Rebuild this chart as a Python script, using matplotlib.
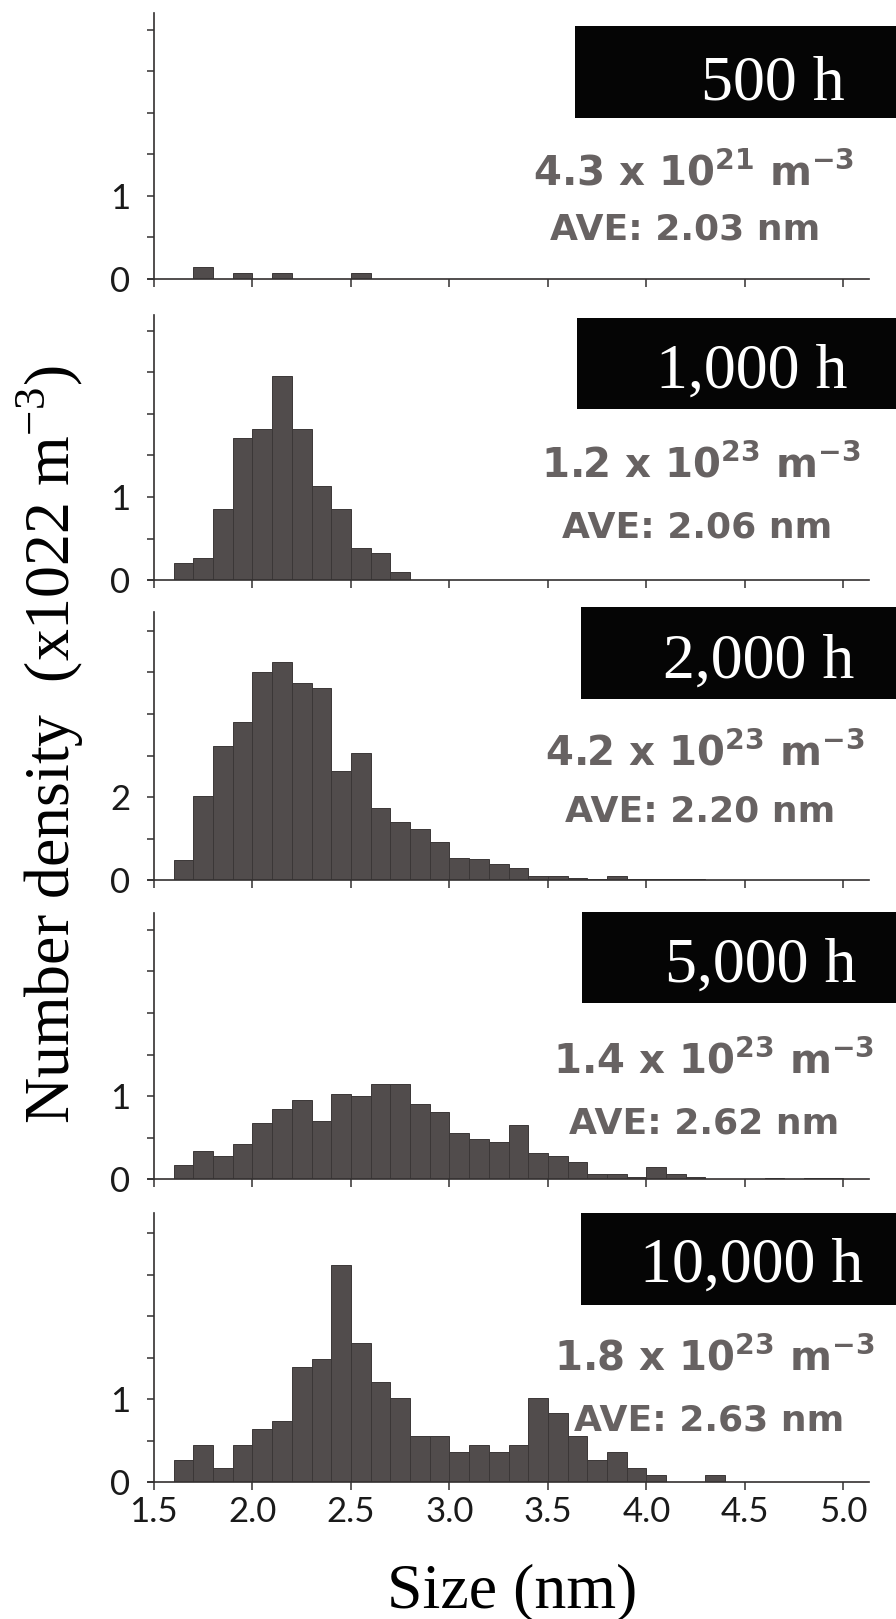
import matplotlib
matplotlib.use("Agg")
import matplotlib.pyplot as plt
from matplotlib import font_manager
from matplotlib.patches import Rectangle
from matplotlib.ticker import FixedLocator

# size bins (left edge, nm), 0.1 nm wide
sizes = [1.6, 1.7, 1.8, 1.9, 2.0, 2.1, 2.2, 2.3, 2.4, 2.5,
         2.6, 2.7, 2.8, 2.9, 3.0, 3.1, 3.2, 3.3, 3.4, 3.5,
         3.6, 3.7, 3.8, 3.9, 4.0, 4.1, 4.2, 4.3, 4.4, 4.5,
         4.6, 4.7, 4.8, 4.9]

# number density per bin (x10^22 m^-3)
h500 = [0, 0.14, 0, 0.07, 0, 0.07, 0, 0, 0, 0.07,
        0, 0, 0, 0, 0, 0, 0, 0, 0, 0,
        0, 0, 0, 0, 0, 0, 0, 0, 0, 0,
        0, 0, 0, 0]
h1000 = [0.21, 0.27, 0.85, 1.71, 1.82, 2.46, 1.82, 1.13, 0.85, 0.39,
         0.32, 0.10, 0, 0, 0, 0, 0, 0, 0, 0,
         0, 0, 0, 0, 0, 0, 0, 0, 0, 0,
         0, 0, 0, 0]
h2000 = [0.47, 2.03, 3.22, 3.80, 5.00, 5.25, 4.75, 4.63, 2.62, 3.06,
         1.73, 1.40, 1.24, 0.92, 0.54, 0.51, 0.39, 0.29, 0.10, 0.09,
         0.06, 0.02, 0.10, 0.02, 0.02, 0.02, 0.02, 0.01, 0, 0,
         0, 0, 0, 0]
h5000 = [0.17, 0.34, 0.28, 0.42, 0.67, 0.84, 0.95, 0.70, 1.03, 1.00,
         1.15, 1.15, 0.90, 0.81, 0.56, 0.48, 0.45, 0.65, 0.31, 0.28,
         0.20, 0.06, 0.06, 0.03, 0.14, 0.06, 0.03, 0, 0, 0,
         0.01, 0, 0.01, 0.01]
h10000 = [0.26, 0.45, 0.17, 0.45, 0.64, 0.74, 1.39, 1.48, 2.61, 1.67,
          1.20, 1.01, 0.55, 0.55, 0.36, 0.45, 0.36, 0.45, 1.01, 0.83,
          0.55, 0.26, 0.36, 0.17, 0.08, 0, 0, 0.08, 0, 0,
          0, 0, 0, 0]

titles = ["500 h", "1,000 h", "2,000 h", "5,000 h", "10,000 h"]
densities = [r"4.3 x 10$^{\mathbf{21}}$ m$^{\mathbf{-3}}$",
             r"1.2 x 10$^{\mathbf{23}}$ m$^{\mathbf{-3}}$",
             r"4.2 x 10$^{\mathbf{23}}$ m$^{\mathbf{-3}}$",
             r"1.4 x 10$^{\mathbf{23}}$ m$^{\mathbf{-3}}$",
             r"1.8 x 10$^{\mathbf{23}}$ m$^{\mathbf{-3}}$"]
averages = ["AVE: 2.03 nm", "AVE: 2.06 nm", "AVE: 2.20 nm",
            "AVE: 2.62 nm", "AVE: 2.63 nm"]
xticks = [1.5, 2.0, 2.5, 3.0, 3.5, 4.0, 4.5, 5.0]
xticklabels = ["1.5", "2.0", "2.5", "3.0", "3.5", "4.0", "4.5", "5.0"]

series = [h500, h1000, h2000, h5000, h10000]

# layout in pixels of the 896 x 1619 image
W, H = 896, 1619
panel_px = [(13, 279), (315, 580), (612, 880), (913, 1179), (1213, 1482)]
px_per_unit = [83, 83, 41.5, 83, 83]
ytick_step = [0.5, 0.5, 1, 0.5, 0.5]
ytick_shown = [1, 1, 2, 1, 1]
box_px = [(575, 26, 118), (577, 318, 409), (581, 607, 699), (582, 912, 1003), (581, 1213, 1305)]
title_xy = [(773, 100), (752, 388), (759, 678), (761, 982), (752, 1282)]
dens_xy = [(694, 185), (701, 477), (705, 765), (714, 1073), (714, 1370)]
ave_xy = [(685, 239), (697, 537), (700, 822), (704, 1133), (709, 1430)]

names = {f.name for f in font_manager.fontManager.ttflist}
if "Liberation Sans Narrow" in names:
    tick_font, tick_size = "Liberation Sans Narrow", 26
else:
    tick_font, tick_size = "Lato", 25

bar_color = "#514c4c"
text_gray = "#676262"
axis_color = "#333030"

plt.rcParams["axes.linewidth"] = 1.2
plt.rcParams["mathtext.fontset"] = "custom"
plt.rcParams["mathtext.rm"] = "Liberation Serif"
plt.rcParams["mathtext.bf"] = "DejaVu Sans:bold"


def fx(px):
    return px / W


def fy(py):
    return 1 - py / H


fig = plt.figure(figsize=(W / 100, H / 100), dpi=100)

for i, h in enumerate(series):
    top, base = panel_px[i]
    ax = fig.add_axes([fx(148), fy(base), 721 / W, (base - top) / H])
    ax.bar(sizes, h, width=0.1, align="edge", color=bar_color,
           edgecolor="#3b3737", linewidth=0.7)
    ax.set_xlim(1.47, 5.13)
    ymax = (base - top) / px_per_unit[i]
    ax.set_ylim(0, ymax)

    for s in ["top", "right"]:
        ax.spines[s].set_visible(False)
    for s in ["left", "bottom"]:
        ax.spines[s].set_color(axis_color)
    ax.spines["left"].set_position(("data", 1.5))

    step = ytick_step[i]
    yt = [k * step for k in range(int(ymax / step) + 1)]
    ax.yaxis.set_major_locator(FixedLocator(yt))
    ax.set_yticklabels([("%g" % v) if v in (0, ytick_shown[i]) else "" for v in yt])
    ax.set_xticks(xticks)
    if i == len(series) - 1:
        ax.set_xticklabels(xticklabels)
    else:
        ax.set_xticklabels([])
    ax.tick_params(axis="both", direction="out", color=axis_color, width=1.1)
    ax.tick_params(axis="y", length=5, pad=12, labelsize=tick_size, labelcolor="#1a1a1a")
    ax.tick_params(axis="x", length=6, pad=4, labelsize=tick_size, labelcolor="#1a1a1a")
    for lab in ax.get_xticklabels() + ax.get_yticklabels():
        lab.set_family(tick_font)

    # black time label box and annotation text
    x0, y0, y1 = box_px[i]
    fig.patches.append(Rectangle((fx(x0), fy(y1)), (W + 5 - x0) / W, (y1 - y0) / H,
                                 transform=fig.transFigure, facecolor="#050505",
                                 edgecolor="none", zorder=2))
    tx, ty = title_xy[i]
    fig.text(fx(tx), fy(ty), titles[i], ha="center", va="baseline", color="white",
             fontsize=46, family="Liberation Serif", zorder=3)
    dx, dy = dens_xy[i]
    fig.text(fx(dx), fy(dy), densities[i], ha="center", va="baseline", color=text_gray,
             fontsize=29, fontweight="bold", family="DejaVu Sans", zorder=3)
    ax_, ay_ = ave_xy[i]
    fig.text(fx(ax_), fy(ay_), averages[i], ha="center", va="baseline", color=text_gray,
             fontsize=26, fontweight="bold", family="DejaVu Sans", zorder=3)

fig.text(fx(50), fy(745), r"Number density  (x1022 m$^{\mathrm{-3}}$)", rotation=90,
         ha="center", va="center", fontsize=46, family="Liberation Serif")
fig.text(fx(512), fy(1607), "Size (nm)", ha="center", va="baseline",
         fontsize=46, family="Liberation Serif")

fig.savefig("out.png", dpi=100)
